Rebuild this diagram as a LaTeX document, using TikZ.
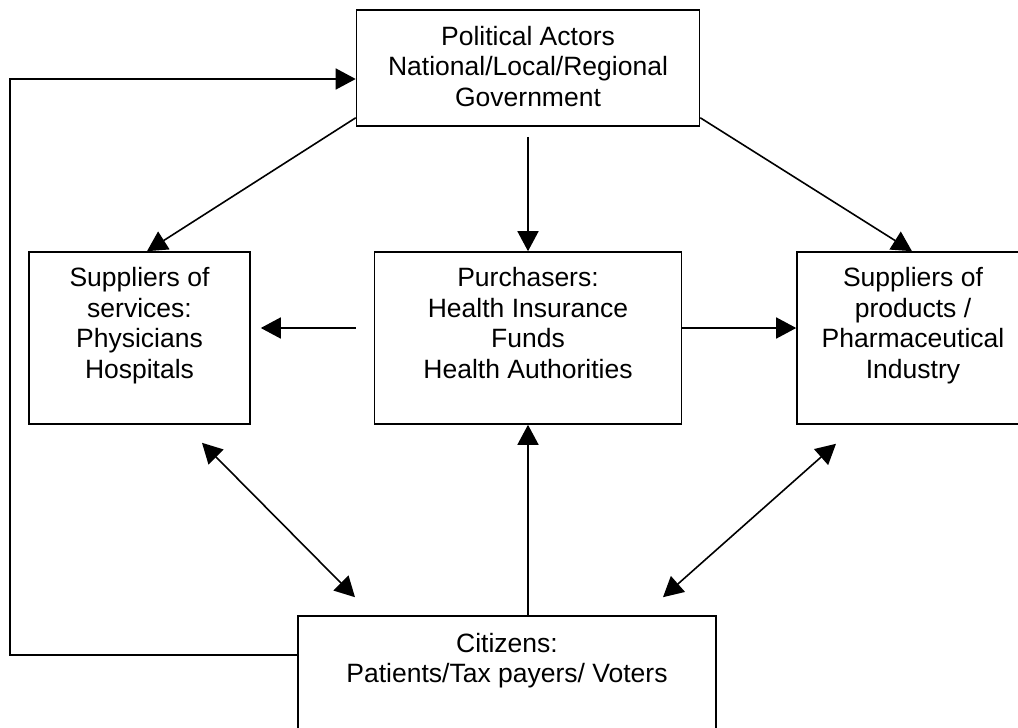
\documentclass[tikz,border=0pt]{standalone}
\usepackage{fontspec}
\setmainfont{Liberation Sans}
\usetikzlibrary{arrows.meta}
\begin{document}
\begin{tikzpicture}[x=1pt,y=-1pt,
  box/.style={draw, line width=1.6pt, inner sep=0pt, fill=white},
  txt/.style={anchor=north, inner sep=0pt, align=center,
    font=\fontsize{26.5}{30.5}\selectfont},
  tipa/.tip={Triangle[length=20pt,width=21pt]},
  arr/.style={-tipa, line width=1.6pt},
  darr/.style={tipa-tipa, line width=1.6pt}]
\useasboundingbox (0,0) rectangle (1018,728);
\clip (0,0) rectangle (1018,728);
% boxes
\node[box, minimum width=343pt, minimum height=116pt] (pol) at (528,68) {};
\node[box, minimum width=221pt, minimum height=172pt] (serv) at (139.5,338) {};
\node[box, minimum width=307pt, minimum height=172pt] (pur) at (528,338) {};
\node[box, minimum width=232pt, minimum height=172pt] (prod) at (913,338) {};
\node[box, minimum width=418pt, minimum height=140pt] (cit) at (507,686) {};
% texts
\node[txt] (polt) at (528,26) {Political Actors\\National/Local/Regional\\Government};
\node[txt] (servt) at (139.5,267.5) {Suppliers of\\services:\\Physicians\\Hospitals};
\node[txt] (purt) at (528,267.5) {Purchasers:\\Health Insurance\\Funds\\Health Authorities};
\node[txt] (prodt) at (913,267.5) {Suppliers of\\products /\\Pharmaceutical\\Industry};
\node[txt] (citt) at (507,633) {Citizens:\\Patients/Tax payers/ Voters};
% connectors
\draw[arr] ([yshift=9pt]pol.south west) -- ([xshift=7.5pt]serv.north);
\draw[arr] ([yshift=9pt]pol.south east) -- ([xshift=-1pt]prod.north);
\draw[arr] ([yshift=-10pt]pol.south) -- (pur.north);
\draw[arr] ([xshift=-18pt,yshift=10pt]pur.west) -- ([xshift=10pt,yshift=10pt]serv.east);
\draw[arr] ([yshift=10pt]pur.east) -- ([yshift=10pt]prod.west);
\draw[arr] (cit.north -| pur.south) -- (pur.south);
\draw[darr] ([xshift=62.5pt,yshift=-18pt]serv.south) -- ([xshift=-152pt,yshift=18pt]cit.north);
\draw[darr] ([xshift=-77pt,yshift=-19pt]prod.south) -- ([xshift=156pt,yshift=18pt]cit.north);
\coordinate (fb) at (10,79);
\draw[arr] ([yshift=31pt]cit.west) -| (fb) -- (fb -| pol.west);
\end{tikzpicture}
\end{document}
